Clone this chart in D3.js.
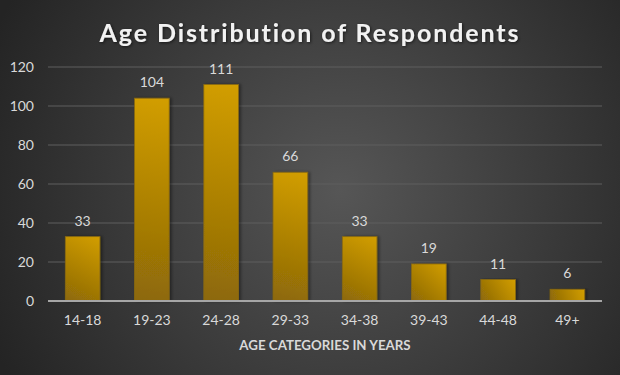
<!DOCTYPE html>
<html>
<head>
<meta charset="utf-8">
<script src="https://cdn.jsdelivr.net/npm/d3@7"></script>
<style>
  html, body { margin: 0; padding: 0; background: #2b2b2b; }
  svg { display: block; }
</style>
</head>
<body>
<div id="chart"></div>
<script>
const categories = ["14-18", "19-23", "24-28", "29-33", "34-38", "39-43", "44-48", "49+"];
const counts = [33, 104, 111, 66, 33, 19, 11, 6];
const yTicks = [0, 20, 40, 60, 80, 100, 120];
const title = "Age Distribution of Respondents";
const xTitle = "AGE CATEGORIES IN YEARS";

const width = 620, height = 375;
const margin = { top: 67, right: 18, bottom: 74, left: 48 };
const innerW = width - margin.left - margin.right;
const innerH = height - margin.top - margin.bottom;
const font = "Lato, 'Open Sans', sans-serif";

const svg = d3.select("#chart").append("svg")
  .attr("width", width)
  .attr("height", height);

const defs = svg.append("defs");

// background: soft radial glow
const bg = defs.append("radialGradient")
  .attr("id", "bg")
  .attr("gradientUnits", "userSpaceOnUse")
  .attr("cx", 340).attr("cy", 190).attr("r", 380);
bg.append("stop").attr("offset", "0%").attr("stop-color", "#565656");
bg.append("stop").attr("offset", "100%").attr("stop-color", "#242424");

svg.append("rect")
  .attr("width", width)
  .attr("height", height)
  .attr("fill", "url(#bg)");

const shadow = defs.append("filter").attr("id", "shadow")
  .attr("x", "-20%").attr("y", "-20%").attr("width", "140%").attr("height", "140%");
shadow.append("feDropShadow")
  .attr("dx", 1).attr("dy", 1).attr("stdDeviation", 1.5)
  .attr("flood-color", "#000").attr("flood-opacity", 0.6);

// title
svg.append("text")
  .attr("x", 310)
  .attr("y", 42)
  .attr("text-anchor", "middle")
  .attr("fill", "#f2f2f2")
  .attr("font-family", font)
  .attr("font-weight", "bold")
  .attr("font-size", 25)
  .attr("letter-spacing", 1.9)
  .attr("filter", "url(#shadow)")
  .text(title);

const g = svg.append("g")
  .attr("transform", `translate(${margin.left},${margin.top})`);

const x = d3.scaleBand()
  .domain(categories)
  .range([0, innerW])
  .paddingInner(0.5)
  .paddingOuter(0.25);

const y = d3.scaleLinear()
  .domain([0, 120])
  .range([innerH, 0]);

// gridlines
g.append("g")
  .selectAll("line")
  .data(yTicks.filter(d => d > 0))
  .enter()
  .append("line")
  .attr("x1", 0)
  .attr("x2", innerW)
  .attr("y1", d => y(d))
  .attr("y2", d => y(d))
  .attr("stroke", "#5e5e5e")
  .attr("stroke-width", 1);

// y axis labels
const yAxis = d3.axisLeft(y).tickValues(yTicks).tickSize(0).tickPadding(14);
g.append("g")
  .call(yAxis)
  .call(s => s.select(".domain").remove())
  .selectAll("text")
  .attr("fill", "#d9d9d9")
  .attr("font-family", font)
  .attr("font-size", 14);

// per-bar gradients: dark bottom-left to light top-right
const data = categories.map((c, i) => ({ cat: c, val: counts[i] }));

data.forEach((d, i) => {
  const x0 = x(d.cat), x1 = x0 + x.bandwidth();
  const y0 = y(d.val), y1 = y(0);
  const grad = defs.append("linearGradient")
    .attr("id", "bar" + i)
    .attr("gradientUnits", "userSpaceOnUse")
    .attr("x1", x0).attr("y1", y1)
    .attr("x2", x1).attr("y2", y0);
  grad.append("stop").attr("offset", "0%").attr("stop-color", "#8c6808");
  grad.append("stop").attr("offset", "100%").attr("stop-color", "#d29e00");
});

const barShadow = defs.append("filter").attr("id", "barShadow")
  .attr("x", "-20%").attr("y", "-5%").attr("width", "150%").attr("height", "110%");
barShadow.append("feDropShadow")
  .attr("dx", 2).attr("dy", 0).attr("stdDeviation", 1.5)
  .attr("flood-color", "#000").attr("flood-opacity", 0.4);

g.append("g")
  .selectAll("rect")
  .data(data)
  .enter()
  .append("rect")
  .attr("x", d => x(d.cat))
  .attr("y", d => y(d.val))
  .attr("width", x.bandwidth())
  .attr("height", d => y(0) - y(d.val))
  .attr("fill", (d, i) => `url(#bar${i})`)
  .attr("stroke", "#8a6a10")
  .attr("stroke-width", 0.8)
  .attr("filter", "url(#barShadow)");

// value labels
g.append("g")
  .selectAll("text")
  .data(data)
  .enter()
  .append("text")
  .attr("x", d => x(d.cat) + x.bandwidth() / 2)
  .attr("y", d => y(d.val) - 11)
  .attr("text-anchor", "middle")
  .attr("fill", "#d9d9d9")
  .attr("font-family", font)
  .attr("font-size", 14)
  .text(d => d.val);

// baseline
g.append("line")
  .attr("x1", 0)
  .attr("x2", innerW)
  .attr("y1", y(0))
  .attr("y2", y(0))
  .attr("stroke", "#a6a6a6")
  .attr("stroke-width", 2);

// x axis labels
const xAxis = d3.axisBottom(x).tickSize(0).tickPadding(14);
g.append("g")
  .attr("transform", `translate(0,${innerH})`)
  .call(xAxis)
  .call(s => s.select(".domain").remove())
  .selectAll("text")
  .attr("fill", "#d9d9d9")
  .attr("font-family", font)
  .attr("font-size", 14);

// x axis title
svg.append("text")
  .attr("x", margin.left + innerW / 2)
  .attr("y", 350)
  .attr("text-anchor", "middle")
  .attr("fill", "#d9d9d9")
  .attr("font-family", font)
  .attr("font-weight", "bold")
  .attr("font-size", 13.3)
  .text(xTitle);
</script>
</body>
</html>
